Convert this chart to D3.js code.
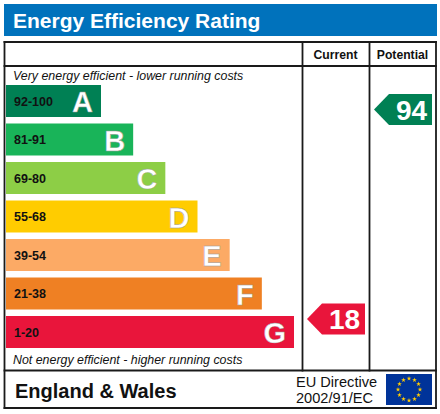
<!DOCTYPE html>
<html>
<head>
<meta charset="utf-8">
<script src="https://cdn.jsdelivr.net/npm/d3@7"></script>
<style>
  body { margin: 0; background: #fff; }
  text { font-family: "Liberation Sans", Arial, sans-serif; }
</style>
</head>
<body>
<svg width="440" height="414"></svg>
<script>
// band data
var bands = ["A", "B", "C", "D", "E", "F", "G"];
var ranges = ["92-100", "81-91", "69-80", "55-68", "39-54", "21-38", "1-20"];
var lows = [92, 81, 69, 55, 39, 21, 1];
var colors = ["#008054", "#19b459", "#8dce46", "#ffcc00", "#fcaa65", "#ef8023", "#e9153b"];
var barWidths = [1, 2, 3, 4, 5, 6, 7]; // relative length of each band bar

// ratings
var columns = ["Current", "Potential"];
var ratings = [18, 94];

var svg = d3.select("svg");

// title bar
svg.append("rect").attr("x", 4).attr("y", 4).attr("width", 433).attr("height", 32)
    .attr("fill", "#0072bc");
svg.append("text").attr("x", 13).attr("y", 28)
    .attr("fill", "#fff").attr("font-size", 21).attr("font-weight", "bold")
    .text("Energy Efficiency Rating");

var yBand = d3.scaleBand().domain(bands).range([85, 348]).paddingInner(0.169).paddingOuter(0);
// bar of length 1 ends at 101, length 7 at 294
var xBar = d3.scaleLinear().domain([1, 7]).range([101, 294]);

// arrow position scale (value -> vertical centre)
var yVal = d3.scaleLinear().domain([0, 100]).range([368.6, 92.9]);
var colX = d3.scaleOrdinal().domain(columns).range([[302, 369], [369, 436]]);

var bandOf = function(v) {
    for (var i = 0; i < lows.length; i++) if (v >= lows[i]) return i;
    return 6;
};

// bars
var rows = svg.append("g").selectAll("g.band").data(bands).enter().append("g").attr("class", "band");
rows.append("rect")
    .attr("x", 6)
    .attr("y", function(d) { return yBand(d); })
    .attr("width", function(d, i) { return xBar(barWidths[i]) - 6; })
    .attr("height", yBand.bandwidth())
    .attr("fill", function(d, i) { return colors[i]; });
rows.append("text")
    .attr("x", 14)
    .attr("y", function(d) { return yBand(d) + 20.5; })
    .attr("font-size", 12.5).attr("font-weight", "bold")
    .attr("fill", "#111")
    .text(function(d, i) { return ranges[i]; });
rows.append("text")
    .attr("x", function(d, i) { return xBar(barWidths[i]) - 8; })
    .attr("y", function(d) { return yBand(d) + 27; })
    .attr("text-anchor", "end")
    .attr("font-size", 29).attr("font-weight", "bold")
    .attr("fill", "#fff")
    .attr("stroke", "#999").attr("stroke-width", 0.4)
    .text(function(d) { return d; });

// captions
svg.append("text").attr("x", 13).attr("y", 80)
    .attr("font-size", 12.4).attr("font-style", "italic").attr("fill", "#111")
    .text("Very energy efficient - lower running costs");
svg.append("text").attr("x", 13).attr("y", 364)
    .attr("font-size", 12.4).attr("font-style", "italic").attr("fill", "#111")
    .text("Not energy efficient - higher running costs");

// rating arrows
columns.forEach(function(c, i) {
    var v = ratings[i];
    var cx = colX(c);
    var yc = yVal(v);
    var h = 31, x0 = cx[0] + 5, x1 = cx[1] - 4, tip = 15;
    svg.append("path")
        .attr("d", "M" + x0 + "," + yc + "L" + (x0 + tip) + "," + (yc - h / 2) +
            "L" + x1 + "," + (yc - h / 2) + "L" + x1 + "," + (yc + h / 2) +
            "L" + (x0 + tip) + "," + (yc + h / 2) + "Z")
        .attr("fill", colors[bandOf(v)]);
    svg.append("text")
        .attr("x", (x0 + tip + x1) / 2 + 1)
        .attr("y", yc + 10.5)
        .attr("text-anchor", "middle")
        .attr("font-size", 28).attr("font-weight", "bold").attr("fill", "#fff")
        .text(v);
    svg.append("text")
        .attr("x", (cx[0] + cx[1]) / 2)
        .attr("y", 59)
        .attr("text-anchor", "middle")
        .attr("font-size", 12.2).attr("font-weight", "bold").attr("fill", "#111")
        .text(c);
});

// frame
var lines = [
    [4.5, 42, 436, 42], [4.5, 66, 436, 66], [4.5, 370.5, 436, 370.5], [4.5, 408, 436, 408],
    [4.5, 42, 4.5, 408], [436, 42, 436, 408], [302.5, 42, 302.5, 370.5], [369.5, 42, 369.5, 370.5]
];
svg.selectAll("line.frame").data(lines).enter().append("line")
    .attr("x1", function(d) { return d[0]; }).attr("y1", function(d) { return d[1]; })
    .attr("x2", function(d) { return d[2]; }).attr("y2", function(d) { return d[3]; })
    .attr("stroke", "#1a1a1a").attr("stroke-width", 1.8).attr("stroke-linecap", "square");

// footer
svg.append("text").attr("x", 15).attr("y", 398)
    .attr("font-size", 20).attr("font-weight", "bold").attr("fill", "#111")
    .text("England & Wales");
svg.append("text").attr("x", 296).attr("y", 387)
    .attr("font-size", 14.6).attr("fill", "#111").text("EU Directive");
svg.append("text").attr("x", 296).attr("y", 403)
    .attr("font-size", 14.6).attr("fill", "#111").text("2002/91/EC");

// EU flag
svg.append("rect").attr("x", 386).attr("y", 374).attr("width", 46).attr("height", 31)
    .attr("fill", "#003399");
var star = d3.symbol().type(d3.symbolStar).size(7);
svg.selectAll("path.star").data(d3.range(12)).enter().append("path")
    .attr("d", star)
    .attr("fill", "#ffcc00")
    .attr("transform", function(d) {
        var a = d / 12 * 2 * Math.PI;
        return "translate(" + (409 + 11 * Math.sin(a)) + "," + (389.5 - 11 * Math.cos(a)) + ")";
    });
</script>
</body>
</html>
